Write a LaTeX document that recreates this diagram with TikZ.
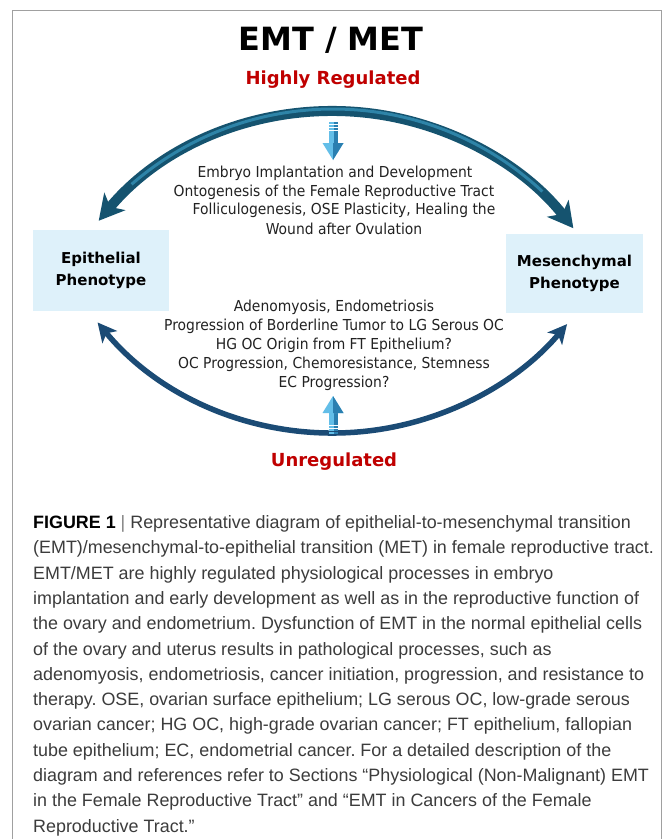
\documentclass[tikz,border=0pt]{standalone}
\usepackage{fontspec}
\setmainfont{DejaVu Sans}
\newfontfamily\diagfont[FakeStretch=0.92]{DejaVu Sans}
\newfontfamily\capfont{Liberation Sans}
\usetikzlibrary{arrows.meta,calc}
\frenchspacing

\definecolor{framegray}{HTML}{A0A0A0}
\definecolor{regred}{HTML}{C00000}
\definecolor{boxfill}{HTML}{DEF1FA}
\definecolor{arcdark}{HTML}{15536F}
\definecolor{arclight}{HTML}{2E84A8}
\definecolor{arcnavy}{HTML}{1B4B75}
\definecolor{blight}{HTML}{63BEE8}
\definecolor{bdark}{HTML}{2A7FB0}
\definecolor{bodytext}{HTML}{222222}
\definecolor{captext}{HTML}{3C3C3C}

\tikzset{
  phenobox/.style={fill=boxfill, draw=none, inner sep=0pt, align=center,
    font=\fontsize{15}{21.5}\selectfont\bfseries},
  bodyline/.style={inner sep=0pt, text=bodytext,
    font=\diagfont\fontsize{15.1}{19}\selectfont},
  redlabel/.style={inner sep=0pt, text=regred,
    font=\fontsize{18}{20}\selectfont\bfseries},
  capline/.style={anchor=base west, inner sep=0pt, text=captext,
    font=\capfont\fontsize{17.9}{20}\selectfont},
  toparc/.style={draw=arcdark, line width=10pt,
    {Stealth[length=25pt,width=27pt,inset=7pt]}-{Stealth[length=25pt,width=27pt,inset=7pt]}},
  toparchi/.style={draw=arclight, line width=3pt},
  botarc/.style={draw=arcnavy, line width=5.5pt,
    {Stealth[length=19pt,width=19pt,inset=5pt]}-{Stealth[length=19pt,width=19pt,inset=5pt]}},
  blockarrow/.pic={
    \fill[blight] (-4.5,0) rectangle (4.5,1.8);
    \fill[blight] (-4.5,3) rectangle (4.5,4.8);
    \fill[blight] (-4.5,6) rectangle (4.5,7.8);
    \fill[blight] (-4.5,9) rectangle (4.5,21.5);
    \fill[bdark] (0.8,0) rectangle (4.5,1.8);
    \fill[bdark] (0.8,3) rectangle (4.5,4.8);
    \fill[bdark] (0.8,6) rectangle (4.5,7.8);
    \fill[bdark] (0.8,9) rectangle (4.5,21.5);
    \fill[blight] (-10.5,21) -- (10.5,21) -- (0,38) -- cycle;
    \fill[bdark] (0,21) -- (10.5,21) -- (0,38) -- cycle;
  }
}

\begin{document}
\begin{tikzpicture}[x=1pt,y=-1pt]
\useasboundingbox (0,0) rectangle (663,839);
\fill[white] (0,0) rectangle (663,839);

% open frame around figure and caption
\draw[framegray, line width=1.5pt] (12.5,839) -- (12.5,10.5) -- (661.5,10.5) -- (661.5,839);

% headings
\node[inner sep=0pt, font=\fontsize{32}{34}\selectfont\bfseries] (title) at (331,40) {EMT / MET};
\node[redlabel] (hireg) at (333,80) {Highly Regulated};
\node[redlabel] (unreg) at (334,462) {Unregulated};

% phenotype boxes
\node[phenobox, minimum width=136pt, minimum height=81pt] (epi) at (101,270.5) {Epithelial\\Phenotype};
\node[phenobox, minimum width=137pt, minimum height=79pt] (mes) at (574.5,273.5) {Mesenchymal\\Phenotype};

% regulated transition arc (upper)
\coordinate (tc) at (333,416);
\coordinate (topL) at ($(tc)+(-140.2:305)$);
\coordinate (topR) at ($(tc)+(-38:305)$);
\coordinate (topLi) at ($(tc)+(-131:307)$);
\draw[toparc] (topL) arc[start angle=-140.2, end angle=-38, radius=305];
\draw[toparchi] (topLi) arc[start angle=-131, end angle=-47, radius=307];

% unregulated transition arc (lower)
\coordinate (bc) at (333,127);
\coordinate (botL) at ($(bc)+(140.3:306)$);
\coordinate (botR) at ($(bc)+(40.1:306)$);
\draw[botarc] (botL) arc[start angle=140.3, end angle=40.1, radius=306];

% small block arrows
\pic (downarrow) at (333,122) {blockarrow};
\pic[yscale=-1] (uparrow) at (333,434) {blockarrow};

% physiological processes
\node[bodyline] (t1) at (335,173) {Embryo Implantation and Development};
\node[bodyline] (t2) at (334,192) {Ontogenesis of the Female Reproductive Tract};
\node[bodyline] (t3) at (344,210.5) {Folliculogenesis, OSE Plasticity, Healing the};
\node[bodyline] (t4) at (344,229) {Wound after Ovulation};

% pathological processes
\node[bodyline] (b1) at (334,307) {Adenomyosis, Endometriosis};
\node[bodyline] (b2) at (334,326) {Progression of Borderline Tumor to LG Serous OC};
\node[bodyline] (b3) at (334,345) {HG OC Origin from FT Epithelium?};
\node[bodyline] (b4) at (334,364) {OC Progression, Chemoresistance, Stemness};
\node[bodyline] (b5) at (334,383) {EC Progression?};

% caption
\node[capline] (c1) at (33,528.5) {{\color{black}\bfseries FIGURE 1} {\color{gray}|} Representative diagram of epithelial-to-mesenchymal transition};
\node[capline] (c2) at (33,553.8) {(EMT)/mesenchymal-to-epithelial transition (MET) in female reproductive tract.};
\node[capline] (c3) at (33,579.1) {EMT/MET are highly regulated physiological processes in embryo};
\node[capline] (c4) at (33,604.4) {implantation and early development as well as in the reproductive function of};
\node[capline] (c5) at (33,629.7) {the ovary and endometrium. Dysfunction of EMT in the normal epithelial cells};
\node[capline] (c6) at (33,655.0) {of the ovary and uterus results in pathological processes, such as};
\node[capline] (c7) at (33,680.3) {adenomyosis, endometriosis, cancer initiation, progression, and resistance to};
\node[capline] (c8) at (33,705.6) {therapy. OSE, ovarian surface epithelium; LG serous OC, low-grade serous};
\node[capline] (c9) at (33,730.9) {ovarian cancer; HG OC, high-grade ovarian cancer; FT epithelium, fallopian};
\node[capline] (c10) at (33,756.2) {tube epithelium; EC, endometrial cancer. For a detailed description of the};
\node[capline] (c11) at (33,781.5) {diagram and references refer to Sections “Physiological (Non-Malignant) EMT};
\node[capline] (c12) at (33,806.8) {in the Female Reproductive Tract” and “EMT in Cancers of the Female};
\node[capline] (c13) at (33,832.1) {Reproductive Tract.”};
\end{tikzpicture}
\end{document}
